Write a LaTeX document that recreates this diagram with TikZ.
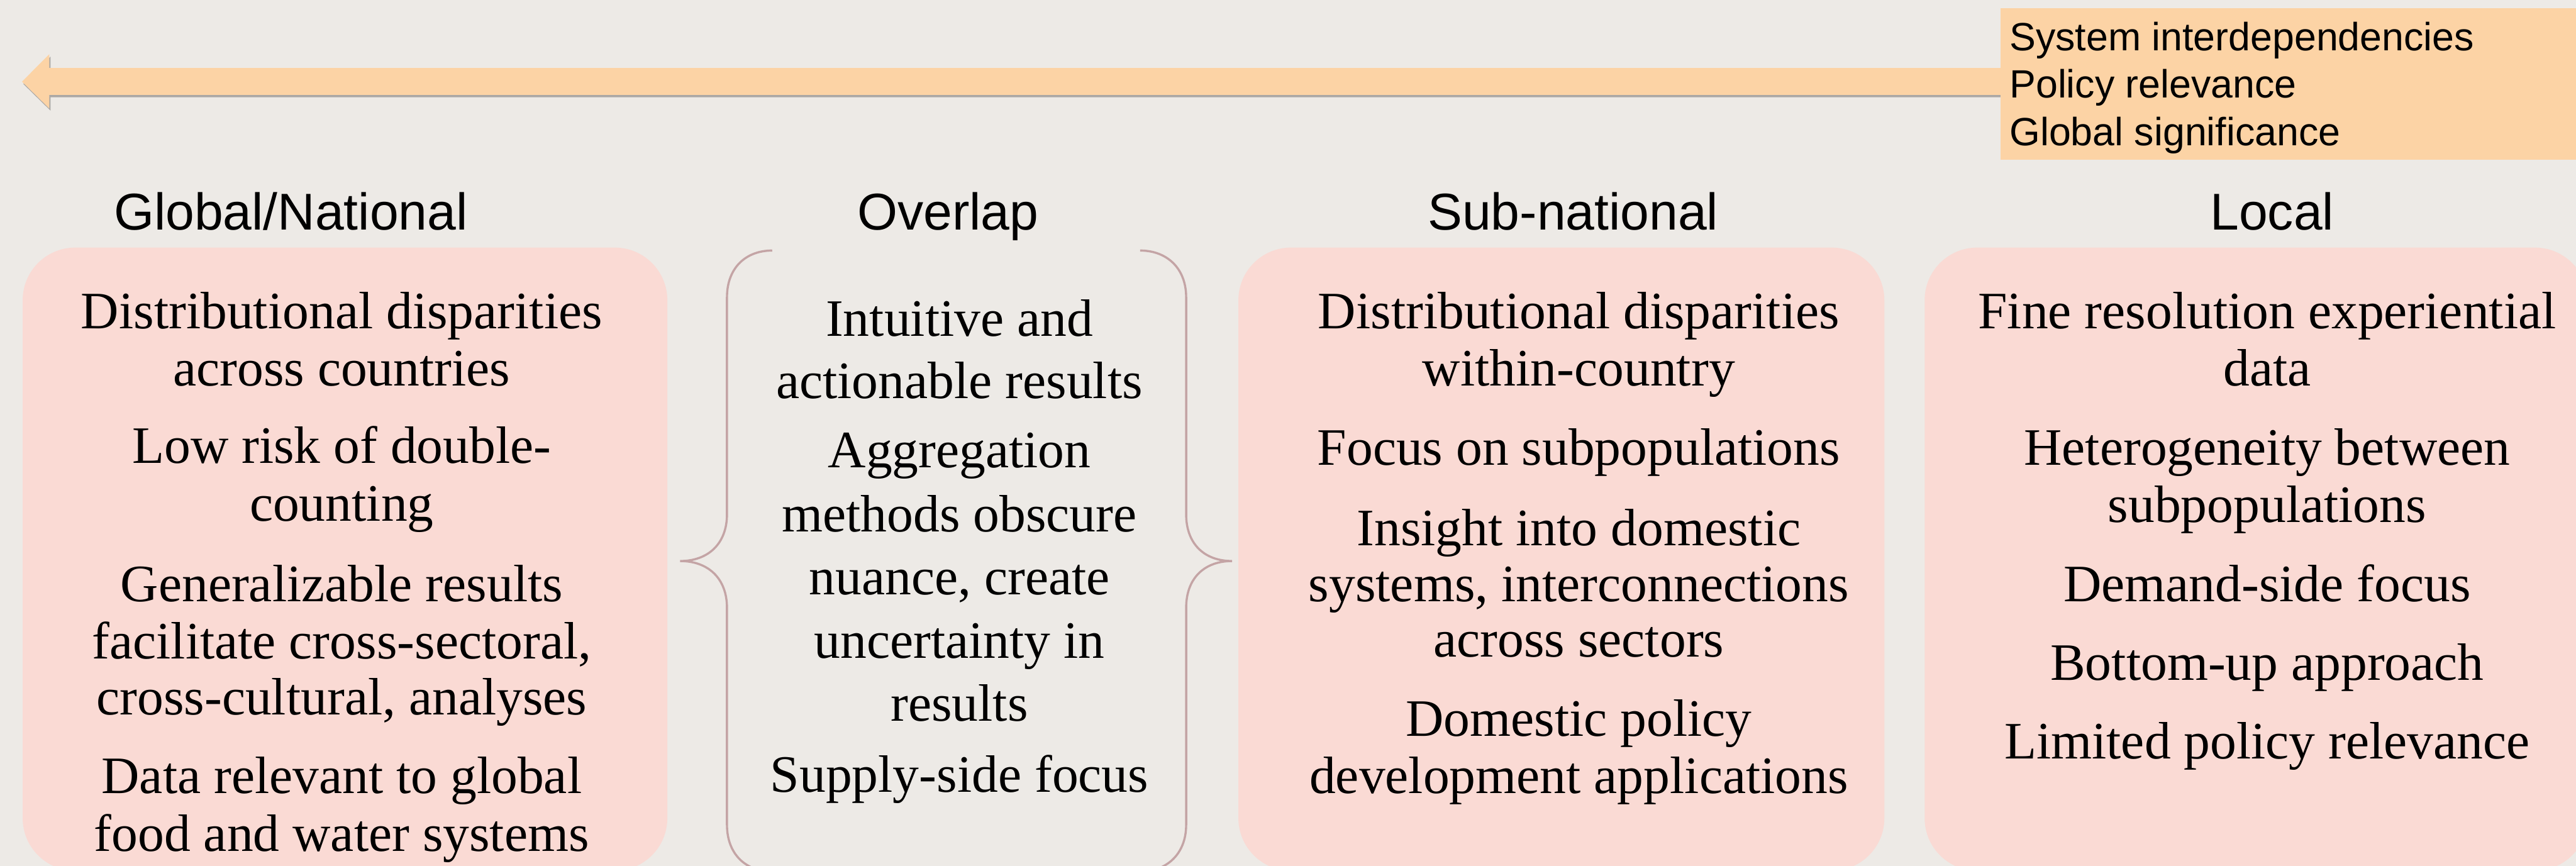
\documentclass[tikz,border=0pt]{standalone}
\usepackage{fontspec}
\setmainfont{Liberation Serif}
\newfontfamily\headfont{Liberation Sans}
\begin{document}
\definecolor{bgcol}{HTML}{EDEAE6}
\definecolor{panelcol}{HTML}{FADAD4}
\definecolor{arrowcol}{HTML}{FCD3A5}
\definecolor{bracecol}{HTML}{C4A4A5}
\begin{tikzpicture}[x=1pt,y=-1pt,
  panel/.style={fill=panelcol,draw=none,rounded corners=32pt,inner sep=0pt},
  body/.style={anchor=base,inner sep=0pt,font=\fontsize{32}{35}\selectfont},
  head/.style={anchor=base,inner sep=0pt,font=\headfont\fontsize{31.5}{34}\selectfont},
  tag/.style={anchor=base west,inner sep=0pt,font=\headfont\fontsize{24}{28.8}\selectfont},
  bracket/.style={draw=bracecol,line width=1.3pt}]
% canvas
\fill[bgcol] (0,0) rectangle (1568,527);
\useasboundingbox (0,0) rectangle (1568,527);
\begin{scope}
\clip (0,0) rectangle (1568,527);

% scale arrow with its soft shadow
\fill[black,opacity=0.28] ([shift={(0.8,1.4)}]13.4,49.7) -- ++(16.6,-16.7) -- ++(0,8.4)
  -- ++(1188,0) -- ++(0,16.4) -- ++(-1188,0) -- ++(0,8.2) -- cycle;
\fill[arrowcol] (13.4,49.7) -- (30,33) -- (30,41.4) -- (1218,41.4)
  -- (1218,57.8) -- (30,57.8) -- (30,66) -- cycle;

% label box at the arrow's tail
\node[fill=arrowcol,inner sep=0pt,minimum width=357.4pt,minimum height=92.1pt,anchor=north west]
  (tagbox) at (1217.6,4.9) {};
\node[tag] (t1) at (1223,31) {System interdependencies};
\node[tag] (t2) at (1223,59.5) {Policy relevance};
\node[tag] (t3) at (1223,88.6) {Global significance};

% column headings
\node[head] (hGlobal) at (177,139.8) {Global/National};
\node[head] (hOverlap) at (577,139.8) {Overlap};
\node[head] (hSub) at (957.5,139.8) {Sub-national};
\node[head] (hLocal) at (1383,139.8) {Local};

% rounded panels
\node[panel,minimum width=392.4pt,minimum height=379.3pt] (pGlobal) at (210,340.35) {};
\node[panel,minimum width=393.2pt,minimum height=379.3pt] (pSub) at (950.4,340.35) {};
\node[panel,minimum width=403.5pt,minimum height=379.3pt] (pLocal) at (1373.25,340.35) {};

% braces around the overlap column
\draw[bracket] (470,152.5) .. controls (454,152.5) and (442.5,163) .. (442.5,181)
  -- (442.5,313) .. controls (442.5,331) and (431,341.5) .. (414,341.5)
  .. controls (431,341.5) and (442.5,352) .. (442.5,370)
  -- (442.5,502) .. controls (442.5,520) and (454,530.5) .. (470,530.5);
\draw[bracket] (694,152.5) .. controls (710,152.5) and (722,163) .. (722,181)
  -- (722,313) .. controls (722,331) and (733,341.5) .. (750,341.5)
  .. controls (733,341.5) and (722,352) .. (722,370)
  -- (722,502) .. controls (722,520) and (710,530.5) .. (694,530.5);

% Global/National
\node[body] (g1) at (208,200) {Distributional disparities};
\node[body] (g2) at (208,235) {across countries};
\node[body] (g3) at (208,282) {Low risk of double-};
\node[body] (g4) at (208,317) {counting};
\node[body] (g5) at (208,366) {Generalizable results};
\node[body] (g6) at (208,401) {facilitate cross-sectoral,};
\node[body] (g7) at (208,435) {cross-cultural, analyses};
\node[body] (g8) at (208,483) {Data relevant to global};
\node[body] (g9) at (208,518) {food and water systems};

% Overlap
\node[body] (o1) at (584,204.6) {Intuitive and};
\node[body] (o2) at (584,242.5) {actionable results};
\node[body] (o3) at (584,284.8) {Aggregation};
\node[body] (o4) at (584,323.5) {methods obscure};
\node[body] (o5) at (584,362) {nuance, create};
\node[body] (o6) at (584,400.6) {uncertainty in};
\node[body] (o7) at (584,439) {results};
\node[body] (o8) at (584,482) {Supply-side focus};

% Sub-national
\node[body] (s1) at (961,200) {Distributional disparities};
\node[body] (s2) at (961,235) {within-country};
\node[body] (s3) at (961,283) {Focus on subpopulations};
\node[body] (s4) at (961,332) {Insight into domestic};
\node[body] (s5) at (961,366) {systems, interconnections};
\node[body] (s6) at (961,400) {across sectors};
\node[body] (s7) at (961,448) {Domestic policy};
\node[body] (s8) at (961,483) {development applications};

% Local
\node[body] (l1) at (1380,200) {Fine resolution experiential};
\node[body] (l2) at (1380,235) {data};
\node[body] (l3) at (1380,283) {Heterogeneity between};
\node[body] (l4) at (1380,318) {subpopulations};
\node[body] (l5) at (1380,366) {Demand-side focus};
\node[body] (l6) at (1380,414) {Bottom-up approach};
\node[body] (l7) at (1380,462) {Limited policy relevance};
\end{scope}
\end{tikzpicture}
\end{document}
